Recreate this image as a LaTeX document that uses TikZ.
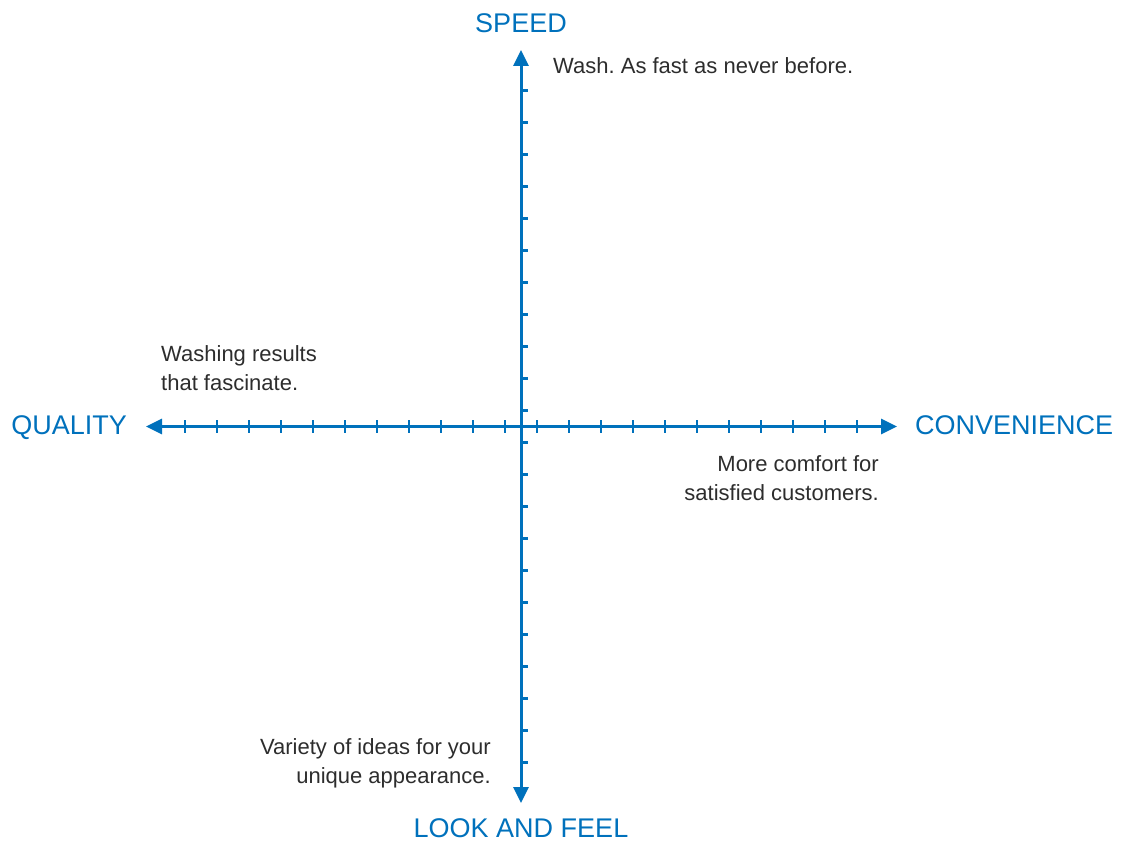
\documentclass[tikz,border=0pt]{standalone}
\usepackage{fontspec}
\setmainfont{Liberation Sans}
\frenchspacing
\usetikzlibrary{arrows.meta}
\definecolor{axisblue}{RGB}{0,113,188}
\definecolor{notegray}{RGB}{45,45,45}
\tikzset{
  axisline/.style={axisblue, line width=3pt,
    {Triangle[length=16pt,width=15pt]}-{Triangle[length=16pt,width=15pt]}},
  axistick/.style={axisblue, line width=2.5pt},
  axislabel/.style={axisblue, font=\fontsize{27}{32}\selectfont, inner sep=0pt},
  note/.style={notegray, font=\fontsize{22}{29}\selectfont, inner sep=0pt},
}
\begin{document}
\begin{tikzpicture}[x=1pt,y=-1pt]
    \useasboundingbox (0,0) rectangle (1122,843);

    % Axis end points
    \coordinate (o) at (521,426.5);
    \coordinate (spd) at (521,50);
    \coordinate (lf) at (521,803);
    \coordinate (qual) at (146,426.5);
    \coordinate (conv) at (897,426.5);

    % Axes
    \draw[axisline] (lf) -- (spd);
    \draw[axisline] (qual) -- (conv);

    % Ticks
    \foreach \k in {-10.5,-9.5,...,10.5} {
        \draw[axistick] (521,{426.5+32*\k}) -- ++(7,0);
        \draw[axistick] ({521+32*\k},420) -- ++(0,13);
    }

    % Axis labels
    \node[axislabel, anchor=base] (speed) at (521,33) {SPEED};
    \node[axislabel, anchor=base] (look) at (521,837) {LOOK AND FEEL};
    \node[axislabel, anchor=base east] (quality) at (127,434) {QUALITY};
    \node[axislabel, anchor=base west] (convenience) at (915,434) {CONVENIENCE};

    % Text
    \node[note, anchor=base west] (wash) at (553,74) {Wash. As fast as never before.};
    \node[note, anchor=base west, align=left] (washing) at (161,390) {Washing results\\that fascinate.};
    \node[note, anchor=base east, align=right] (comfort) at (879,500) {More comfort for\\satisfied customers.};
    \node[note, anchor=base east, align=right] (variety) at (491,783) {Variety of ideas for your\\unique appearance.};
\end{tikzpicture}
\end{document}
